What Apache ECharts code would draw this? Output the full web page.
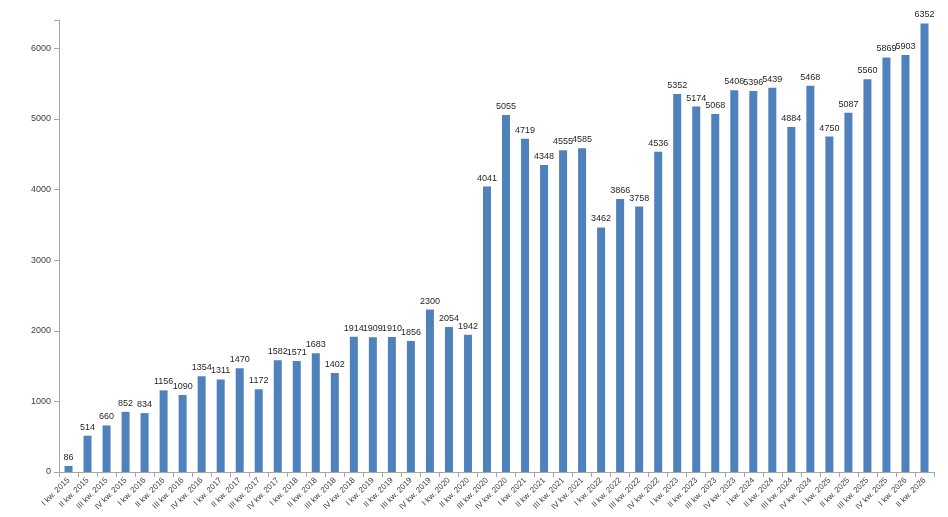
<!DOCTYPE html>
<html>
<head>
<meta charset="utf-8">
<script src="https://cdn.jsdelivr.net/npm/echarts@6/dist/echarts.min.js"></script>
<style>
html,body{margin:0;padding:0;background:#fff;}
#main{width:948px;height:517px;}
</style>
</head>
<body>
<div id="main"></div>
<script>
// kwartały i wartości
var quarters = ['I', 'II', 'III', 'IV'];
var years = [2015, 2016, 2017, 2018, 2019, 2020, 2021, 2022, 2023, 2024, 2025, 2026];
var values = [86, 514, 660, 852, 834, 1156, 1090, 1354, 1311, 1470, 1172, 1582,
    1571, 1683, 1402, 1914, 1909, 1910, 1856, 2300, 2054, 1942, 4041, 5055,
    4719, 4348, 4555, 4585, 3462, 3866, 3758, 4536, 5352, 5174, 5068, 5406,
    5396, 5439, 4884, 5468, 4750, 5087, 5560, 5869, 5903, 6352];

var categories = [];
years.forEach(function (y) {
    quarters.forEach(function (q) {
        if (categories.length < values.length) categories.push(q + ' kw. ' + y);
    });
});

var myChart = echarts.init(document.getElementById('main'));
var option = {
    animation: false,
    grid: { left: 59, right: 14, top: 20, bottom: 45, containLabel: false },
    xAxis: {
        type: 'category',
        data: categories,
        axisLine: { lineStyle: { color: '#a6a6a6' } },
        axisTick: { show: true, alignWithLabel: false, lineStyle: { color: '#a6a6a6' } },
        axisLabel: {
            interval: 0, rotate: 45, fontSize: 8, color: '#404040',
            fontFamily: 'Liberation Sans', margin: 7
        }
    },
    yAxis: {
        type: 'value',
        min: 0, max: 6400, interval: 1000,
        splitLine: { show: false },
        axisLine: { show: true, lineStyle: { color: '#a6a6a6' } },
        axisTick: { show: true, lineStyle: { color: '#a6a6a6' } },
        axisLabel: {
            fontSize: 9, color: '#404040', fontFamily: 'Liberation Sans',
            formatter: function (v) { return v % 1000 === 0 ? v : ''; }
        }
    },
    series: [{
        type: 'bar',
        data: values,
        barWidth: 8,
        itemStyle: { color: '#4F81BD' },
        label: {
            show: true, position: 'top', fontSize: 9, color: '#262626',
            fontFamily: 'Liberation Sans', distance: 4
        }
    }]
};
myChart.setOption(option);
</script>
</body>
</html>
